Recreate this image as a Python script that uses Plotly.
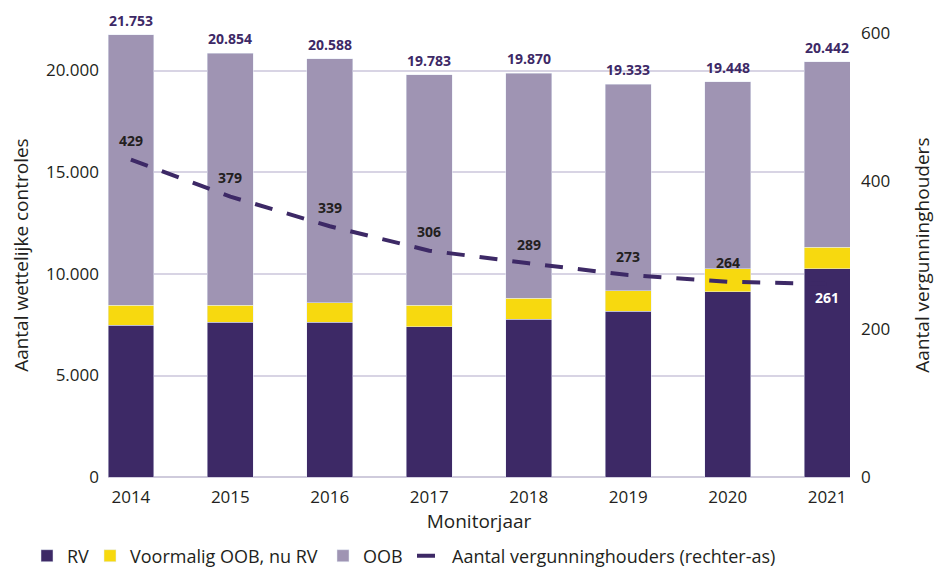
import plotly.graph_objects as go

years = ["2014", "2015", "2016", "2017", "2018", "2019", "2020", "2021"]
rv = [7480, 7620, 7620, 7390, 7770, 8160, 9130, 10240]
voormalig = [970, 830, 970, 1060, 1020, 1020, 1110, 1070]
totals = [21753, 20854, 20588, 19783, 19870, 19333, 19448, 20442]
oob = [t - a - b for t, a, b in zip(totals, rv, voormalig)]
vergunninghouders = [429, 379, 339, 306, 289, 273, 264, 261]

DARK = "#3d2966"
YELLOW = "#f7d90f"
LILAC = "#9f94b3"
INK = "#231f20"
FONT = "Open Sans"
W, H = 935, 568

x = list(range(len(years)))


def nl(n):
    return f"{n:,}".replace(",", ".")


fig = go.Figure()
fig.add_trace(go.Bar(x=x, y=rv, name="RV", marker_color=DARK, width=0.46,
                     legend="legend"))
fig.add_trace(go.Bar(x=x, y=voormalig, name="Voormalig OOB, nu RV",
                     marker_color=YELLOW, width=0.46, legend="legend2"))
fig.add_trace(go.Bar(x=x, y=oob, name="OOB", marker_color=LILAC, width=0.46,
                     legend="legend3"))

# number of licence holders (right axis)
fig.add_trace(go.Scatter(
    x=x, y=vergunninghouders, yaxis="y2", mode="lines",
    name="Aantal vergunninghouders (rechter-as)", legend="legend4",
    line=dict(color=DARK, width=4, dash="18px,15px"),
))

# totals above the stacks
for i, t in enumerate(totals):
    fig.add_annotation(
        x=x[i], y=t, text=nl(t), showarrow=False, yanchor="bottom", yshift=3,
        font=dict(family=FONT, size=14, color=DARK, weight="bold"),
    )

last = len(x) - 1
for i, v in enumerate(vergunninghouders):
    fig.add_annotation(
        x=x[i], y=v, yref="y2", text=str(v), showarrow=False,
        yshift=-14 if i == last else 19,
        font=dict(family=FONT, size=14, weight="bold",
                  color="white" if i == last else INK),
    )


def legend_at(px):
    return dict(
        orientation="h", xref="container", yref="container",
        x=px / W, y=12 / H, xanchor="left", yanchor="middle",
        font=dict(size=18), bgcolor="rgba(0,0,0,0)",
    )


fig.update_layout(
    width=W, height=H,
    barmode="stack",
    separators=",.",
    showlegend=True,
    plot_bgcolor="white", paper_bgcolor="white",
    font=dict(family=FONT, size=16, color=INK),
    margin=dict(l=108, r=85, t=33, b=85),
    xaxis=dict(
        range=[-0.23, 7.23], tickvals=x, ticktext=years,
        showgrid=False, showline=False, ticks="",
        tickfont=dict(size=17), ticklabelstandoff=8,
        title=dict(text="Monitorjaar", standoff=4),
    ),
    yaxis=dict(
        range=[0, 21845], tickvals=[0, 5000, 10000, 15000, 20000],
        tickformat=",d", gridcolor="#d8d4e4", gridwidth=1.5,
        zeroline=True, zerolinecolor="#cfcbdc", zerolinewidth=2,
        ticks="", automargin=False, ticklabelstandoff=8,
        tickfont=dict(size=17),
        title=dict(text="Aantal wettelijke controles", standoff=12),
    ),
    yaxis2=dict(
        overlaying="y", side="right", range=[0, 600],
        tickvals=[0, 200, 400, 600], showgrid=False, zeroline=False,
        ticks="", automargin=False, ticklabelstandoff=10,
        tickfont=dict(size=17),
        title=dict(text="Aantal vergunninghouders", standoff=40),
    ),
    legend=legend_at(27),
    legend2=legend_at(90),
    legend3=legend_at(323),
    legend4=legend_at(412),
)

# drop the default 8px body margin so the figure fills the window
fig.write_html("out.html", config={"displayModeBar": False},
               post_script="document.body.style.margin = '0';")
